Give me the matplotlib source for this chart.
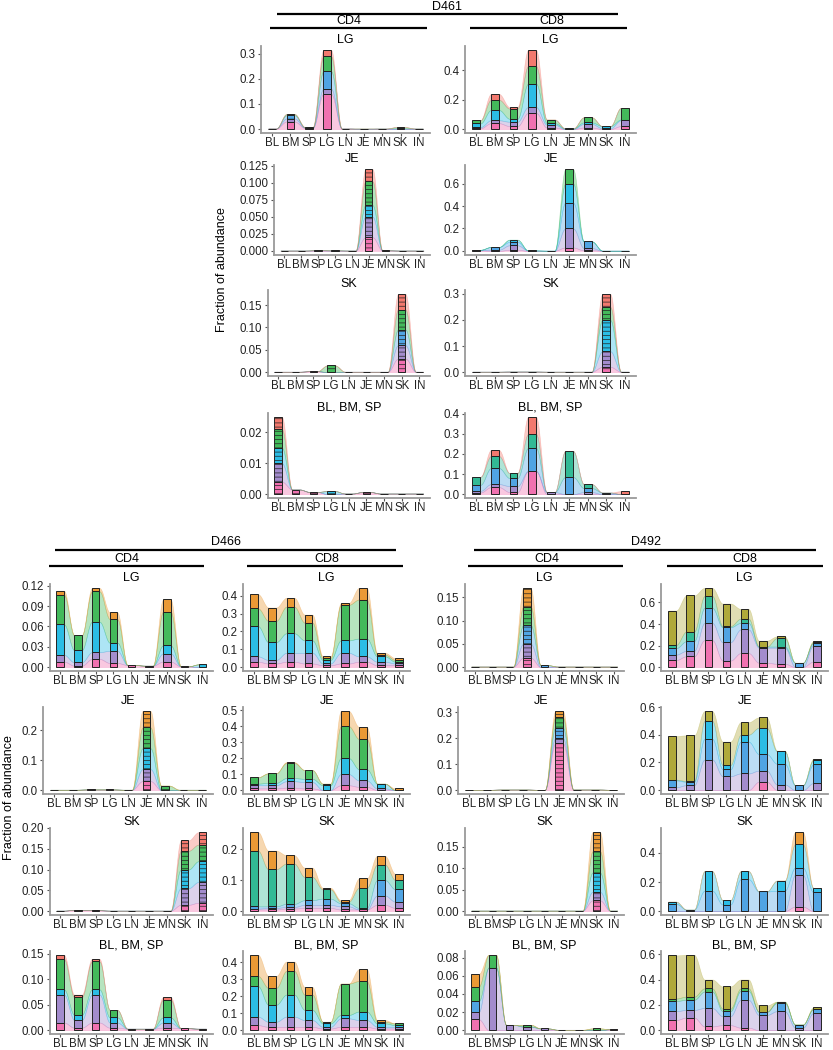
import matplotlib
matplotlib.use('Agg')
import matplotlib.pyplot as plt
import numpy as np
from matplotlib.textpath import TextPath
from matplotlib.font_manager import FontProperties
from matplotlib.colors import to_rgba

plt.rcParams['font.family'] = ['Liberation Sans', 'DejaVu Sans']
plt.rcParams['hatch.linewidth'] = 0.5
plt.rcParams['hatch.color'] = '#222222'

W, H = 833, 1050
tissues = ['BL', 'BM', 'SP', 'LG', 'LN', 'JE', 'MN', 'SK', 'IN']

# each row = one tissue, columns = clone bands stacked bottom -> top
d461_cd4_lg = [[0.002, 0, 0, 0, 0], [0.03, 0.012, 0.013, 0.005, 0], [0.004, 0.002, 0, 0.002, 0],
               [0.14, 0.02, 0.07, 0.06, 0.025], [0.002, 0, 0, 0, 0], [0, 0, 0.002, 0, 0],
               [0, 0.002, 0, 0, 0], [0, 0, 0.003, 0.005, 0], [0, 0.002, 0, 0, 0]]
d461_cd8_lg = [[0.005, 0.008, 0.025, 0.022, 0], [0.04, 0.02, 0.07, 0.07, 0.04], [0.02, 0.03, 0.02, 0.07, 0.01],
               [0.11, 0.04, 0.16, 0.12, 0.11], [0.01, 0.02, 0.01, 0.025, 0], [0, 0, 0.004, 0, 0],
               [0.01, 0.025, 0.01, 0.035, 0], [0, 0.005, 0.015, 0, 0], [0.02, 0.04, 0.005, 0.08, 0]]
d461_cd4_je = [[0.0005, 0, 0, 0, 0], [0.0005, 0, 0, 0, 0], [0, 0.001, 0, 0, 0], [0, 0.0008, 0, 0, 0],
               [0.0005, 0, 0, 0, 0], [0.02, 0.03, 0.017, 0.035, 0.018], [0.0008, 0, 0, 0, 0],
               [0.0005, 0, 0, 0, 0], [0.0005, 0, 0, 0, 0]]
d461_cd8_je = [[0.005, 0, 0.005, 0, 0], [0, 0.01, 0.025, 0, 0], [0.01, 0.04, 0.03, 0.02, 0],
               [0, 0.004, 0, 0, 0], [0.002, 0, 0, 0, 0], [0.03, 0.17, 0.23, 0.17, 0.13],
               [0.005, 0.02, 0.06, 0, 0], [0.002, 0, 0, 0, 0], [0.002, 0, 0, 0, 0]]
d461_cd4_sk = [[0.0008, 0, 0, 0, 0], [0.0008, 0, 0, 0, 0], [0.002, 0, 0, 0, 0], [0, 0, 0, 0.015, 0],
               [0.0008, 0, 0, 0, 0], [0.0008, 0, 0, 0, 0], [0.0008, 0, 0, 0, 0],
               [0.03, 0.03, 0.035, 0.045, 0.035], [0.0008, 0, 0, 0, 0]]
d461_cd8_sk = [[0.0015, 0, 0, 0, 0], [0.0015, 0, 0, 0, 0], [0.002, 0, 0, 0, 0], [0.002, 0, 0, 0, 0],
               [0.0015, 0, 0, 0, 0], [0.0015, 0, 0, 0, 0], [0.0015, 0, 0, 0, 0],
               [0.02, 0.06, 0.12, 0.05, 0.05], [0.0015, 0, 0, 0, 0]]
d461_cd4_bl = [[0.004, 0.006, 0.005, 0.006, 0.004], [0.0015, 0, 0, 0, 0], [0.0007, 0, 0, 0, 0],
               [0, 0, 0.001, 0, 0], [0.0002, 0, 0, 0, 0], [0.0007, 0, 0, 0, 0], [0.0002, 0, 0, 0, 0],
               [0.0002, 0, 0, 0, 0], [0.0002, 0, 0, 0, 0]]
d461_cd8_bl = [[0.008, 0.008, 0.03, 0.04, 0], [0.035, 0.015, 0.08, 0.06, 0.03], [0.01, 0.03, 0.04, 0.025, 0],
               [0.115, 0, 0.115, 0.07, 0.085], [0, 0.01, 0, 0, 0], [0, 0, 0.085, 0.13, 0],
               [0, 0.01, 0.02, 0.02, 0], [0, 0, 0.008, 0, 0], [0, 0, 0, 0, 0.015]]

d466_cd4_lg = [[0.008, 0.01, 0.045, 0.044, 0.006], [0.002, 0.005, 0.018, 0.022, 0], [0.012, 0.01, 0.045, 0.045, 0.005],
               [0.006, 0.018, 0.012, 0.035, 0.01], [0.003, 0, 0, 0, 0], [0.002, 0, 0, 0, 0],
               [0.008, 0.012, 0.012, 0.05, 0.018], [0.001, 0, 0, 0, 0], [0, 0, 0.004, 0, 0]]
d466_cd8_lg = [[0.03, 0.03, 0.17, 0.1, 0.08], [0.02, 0.02, 0.1, 0.12, 0.075], [0.03, 0.05, 0.11, 0.15, 0.05],
               [0.02, 0.06, 0.07, 0.1, 0.045], [0.01, 0.01, 0.02, 0.01, 0.01], [0.02, 0.06, 0.07, 0.2, 0.01],
               [0.03, 0.03, 0.1, 0.22, 0.065], [0.01, 0.02, 0.03, 0.01, 0.01], [0.01, 0.01, 0.01, 0.01, 0.01]]
d466_cd4_je = [[0.001, 0, 0, 0, 0], [0.001, 0, 0, 0, 0], [0.002, 0, 0, 0, 0], [0.002, 0, 0, 0, 0],
               [0.001, 0, 0, 0, 0], [0.03, 0.04, 0.07, 0.07, 0.055], [0, 0, 0, 0.015, 0],
               [0.001, 0, 0, 0, 0], [0.001, 0, 0, 0, 0]]
d466_cd8_je = [[0.01, 0.02, 0.01, 0.04, 0], [0.01, 0.02, 0.015, 0.06, 0], [0.015, 0.04, 0.02, 0.095, 0.005],
               [0.01, 0.04, 0.02, 0.055, 0], [0, 0, 0.03, 0.01, 0], [0.03, 0.07, 0.1, 0.2, 0.095],
               [0.02, 0.04, 0.07, 0.19, 0.075], [0, 0.01, 0.03, 0, 0], [0, 0, 0, 0, 0.01]]
d466_cd4_sk = [[0.001, 0, 0, 0, 0], [0.003, 0, 0, 0, 0], [0.002, 0, 0, 0, 0], [0.001, 0, 0, 0, 0],
               [0.001, 0, 0, 0, 0], [0.001, 0, 0, 0, 0], [0.001, 0, 0, 0, 0],
               [0.015, 0.04, 0.045, 0.045, 0.025], [0.02, 0.05, 0.05, 0.04, 0.03]]
d466_cd8_sk = [[0.005, 0.003, 0.007, 0.18, 0.06], [0.005, 0.005, 0.005, 0.12, 0.06], [0.008, 0.005, 0.01, 0.13, 0.027],
               [0.01, 0.01, 0.015, 0.075, 0.03], [0.01, 0.01, 0.02, 0.03, 0.005], [0.005, 0.01, 0.01, 0.005, 0.005],
               [0.005, 0, 0.005, 0.065, 0.03], [0.02, 0.03, 0.05, 0.05, 0.028], [0.01, 0.02, 0.04, 0.03, 0.02]]
d466_cd4_bl = [[0.015, 0.055, 0.01, 0.06, 0.008], [0.005, 0.015, 0.01, 0.035, 0.005], [0.015, 0.055, 0.01, 0.055, 0.005],
               [0.005, 0.01, 0.01, 0.015, 0], [0.003, 0, 0, 0, 0], [0.003, 0, 0, 0, 0],
               [0.005, 0.01, 0.01, 0.035, 0.005], [0.004, 0, 0, 0, 0], [0.003, 0, 0, 0, 0]]
d466_cd8_bl = [[0.03, 0.05, 0.18, 0.06, 0.125], [0.02, 0.03, 0.1, 0.1, 0.07], [0.02, 0.06, 0.13, 0.14, 0.055],
               [0.02, 0.04, 0.06, 0.09, 0.045], [0.01, 0.01, 0.02, 0.01, 0], [0.02, 0.05, 0.02, 0.185, 0],
               [0.02, 0.04, 0.05, 0.18, 0.07], [0.01, 0.01, 0.02, 0.01, 0.01], [0.01, 0.01, 0.01, 0.01, 0]]

d492_cd4_lg = [[0.001, 0, 0, 0, 0], [0.001, 0, 0, 0, 0], [0.001, 0, 0, 0, 0], [0.02, 0.03, 0.04, 0.04, 0.04],
               [0, 0, 0.004, 0, 0], [0.001, 0, 0, 0, 0], [0.001, 0, 0, 0, 0], [0.001, 0, 0, 0, 0], [0.001, 0, 0, 0, 0]]
d492_cd8_lg = [[0.065, 0.05, 0.06, 0.03, 0.32], [0.1, 0.05, 0.09, 0.09, 0.335], [0.25, 0.16, 0.14, 0.11, 0.075],
               [0.06, 0.17, 0.14, 0.01, 0.21], [0.13, 0.22, 0.06, 0.04, 0.09], [0.04, 0.14, 0.01, 0, 0.055],
               [0.03, 0.15, 0.01, 0.08, 0.015], [0, 0, 0.04, 0, 0], [0.05, 0.15, 0.02, 0.01, 0.01]]
d492_cd4_je = [[0.001, 0, 0, 0, 0], [0.001, 0, 0, 0, 0], [0.002, 0, 0, 0, 0], [0.002, 0, 0, 0, 0],
               [0.001, 0, 0, 0, 0], [0.18, 0.02, 0.04, 0.04, 0.025], [0.002, 0, 0, 0, 0],
               [0.002, 0, 0, 0, 0], [0.001, 0, 0, 0, 0]]
d492_cd8_je = [[0, 0.02, 0.05, 0.005, 0.315], [0, 0.035, 0.025, 0.005, 0.33], [0, 0.22, 0.15, 0.13, 0.07],
               [0, 0.1, 0.05, 0.03, 0.17], [0, 0.12, 0.23, 0.05, 0.09], [0.06, 0.08, 0.12, 0.19, 0.075],
               [0, 0.04, 0.15, 0.09, 0.005], [0, 0, 0.035, 0, 0], [0, 0.05, 0.135, 0.03, 0.01]]
d492_cd4_sk = [[0.001, 0, 0, 0, 0], [0.001, 0, 0, 0, 0], [0.001, 0, 0, 0, 0], [0.001, 0, 0, 0, 0],
               [0.001, 0, 0, 0, 0], [0.001, 0, 0, 0, 0], [0.001, 0, 0, 0, 0],
               [0.025, 0.02, 0.045, 0.05, 0.045], [0.001, 0, 0, 0, 0]]
d492_cd8_sk = [[0, 0, 0.05, 0.015, 0], [0, 0, 0.01, 0, 0], [0, 0, 0.14, 0.135, 0], [0, 0, 0.045, 0.03, 0],
               [0, 0, 0.22, 0.055, 0], [0, 0, 0.135, 0, 0], [0, 0, 0.14, 0.07, 0],
               [0.03, 0.22, 0.05, 0.16, 0.085], [0, 0, 0.13, 0.03, 0]]
d492_cd4_bl = [[0.012, 0.008, 0.012, 0.016, 0.014], [0, 0.069, 0, 0.014, 0], [0, 0.006, 0, 0, 0],
               [0, 0.004, 0, 0.002, 0], [0, 0.002, 0, 0, 0], [0.0005, 0, 0, 0, 0], [0.0005, 0, 0, 0, 0],
               [0, 0, 0, 0.002, 0], [0.001, 0, 0, 0, 0]]
d492_cd8_bl = [[0.08, 0.07, 0.08, 0.02, 0.34], [0.1, 0.06, 0.08, 0.025, 0.33], [0.03, 0.145, 0.13, 0.025, 0.07],
               [0.04, 0.07, 0.04, 0.02, 0.175], [0.02, 0.22, 0.07, 0.02, 0.07], [0, 0.12, 0.025, 0, 0.05],
               [0, 0.15, 0.065, 0.01, 0], [0, 0.02, 0.025, 0, 0], [0, 0.135, 0.03, 0.005, 0.01]]

PINK, PURPLE, BLUE, CYAN = '#EF62A8', '#9A80C8', '#3D9BE0', '#14B7E3'
TEAL, GREEN, OLIVE, ORANGE, RED = '#1CB38A', '#2FB34A', '#A8A025', '#E88E1F', '#F26B5F'

fig = plt.figure(figsize=(W / 100, H / 100), dpi=100)
TICK_FS = 8.3
fp = FontProperties(family='Liberation Sans')


def text_w(s):
    # width of a tick label in pixels
    return TextPath((0, 0), s, size=TICK_FS, prop=fp).get_extents().width * 100 / 72


def smooth(t):
    return 0.5 - 0.5 * np.cos(np.pi * t)


def panel(data, title, ticks, cols, striped, lab_left, right, top, bottom):
    data = np.array(data, float)
    tot = data.sum(1)
    ymax = tot.max()
    left = lab_left + max(text_w(t) for t in ticks) + 6
    ax = fig.add_axes([left / W, 1 - bottom / H, (right - left) / W, (bottom - top) / H])
    cum = np.hstack([np.zeros((len(tissues), 1)), np.cumsum(data, 1)])
    bw = 0.42
    tt = np.linspace(0, 1, 30)
    xs, ys = [], []
    for i in range(len(tissues)):
        xs += [i - bw / 2, i + bw / 2]
        ys += [cum[i], cum[i]]
        if i < len(tissues) - 1:
            for t in tt[1:-1]:
                xs.append(i + bw / 2 + t * (1 - bw))
                ys.append(cum[i] + (cum[i + 1] - cum[i]) * smooth(t))
    xs = np.array(xs)
    ys = np.array(ys)
    for b in range(data.shape[1]):
        ax.fill_between(xs, ys[:, b], ys[:, b + 1], color=cols[b], alpha=0.35, lw=0.4)
    for b in range(data.shape[1]):
        for i in range(len(tissues)):
            if data[i, b] <= 0:
                continue
            ax.bar(i, data[i, b], bottom=cum[i, b], width=bw, color=to_rgba(cols[b], 0.85),
                   edgecolor='#222222', linewidth=0.7, hatch='----' if striped else None)
    ax.set_xlim(-0.6, len(tissues) - 0.4)
    ax.set_ylim(-0.05 * ymax, 1.05 * ymax)
    ax.set_xticks(range(len(tissues)))
    ax.set_xticklabels(tissues)
    ax.set_yticks([float(t) for t in ticks])
    ax.set_yticklabels(ticks)
    ax.tick_params(labelsize=TICK_FS, width=0.8, color='#555555', labelcolor='#222222')
    ax.tick_params(axis='x', length=2, pad=1.2)
    ax.tick_params(axis='y', length=2.5, pad=1.5)
    for s in ['top', 'right']:
        ax.spines[s].set_visible(False)
    for s in ['left', 'bottom']:
        ax.spines[s].set_color('#9a9a9a')
        ax.spines[s].set_linewidth(1.3)
    ax.set_title(title, fontsize=9, pad=1.5)
    return ax


top_rows = [(46, 133), (165, 255), (290, 376), (413, 498)]
bot_rows = [(584, 671), (707, 794), (828, 915), (951, 1034)]

r = top_rows
panel(d461_cd4_lg, 'LG', ['0.0', '0.1', '0.2', '0.3'], [PINK, PURPLE, BLUE, GREEN, RED], False, 240, 430, *r[0])
panel(d461_cd8_lg, 'LG', ['0.0', '0.2', '0.4'], [PINK, PURPLE, CYAN, GREEN, RED], False, 444, 636, *r[0])
panel(d461_cd4_je, 'JE', ['0.000', '0.025', '0.050', '0.075', '0.100', '0.125'], [PINK, PURPLE, CYAN, GREEN, RED], True, 240, 430, *r[1])
panel(d461_cd8_je, 'JE', ['0.0', '0.2', '0.4', '0.6'], [PINK, PURPLE, BLUE, CYAN, GREEN], False, 444, 636, *r[1])
panel(d461_cd4_sk, 'SK', ['0.00', '0.05', '0.10', '0.15'], [PINK, PURPLE, BLUE, GREEN, RED], True, 240, 430, *r[2])
panel(d461_cd8_sk, 'SK', ['0.0', '0.1', '0.2', '0.3'], [PINK, PURPLE, CYAN, GREEN, RED], True, 444, 636, *r[2])
panel(d461_cd4_bl, 'BL, BM, SP', ['0.00', '0.01', '0.02'], [PINK, PURPLE, CYAN, GREEN, RED], True, 240, 430, *r[3])
panel(d461_cd8_bl, 'BL, BM, SP', ['0.0', '0.1', '0.2', '0.3', '0.4'], [PINK, PURPLE, BLUE, TEAL, RED], False, 444, 636, *r[3])

r = bot_rows
panel(d466_cd4_lg, 'LG', ['0.00', '0.03', '0.06', '0.09', '0.12'], [PINK, PURPLE, CYAN, GREEN, ORANGE], False, 22, 213, *r[0])
panel(d466_cd8_lg, 'LG', ['0.0', '0.1', '0.2', '0.3', '0.4'], [PINK, PURPLE, CYAN, GREEN, ORANGE], False, 222, 410, *r[0])
panel(d466_cd4_je, 'JE', ['0.0', '0.1', '0.2'], [PINK, PURPLE, CYAN, GREEN, ORANGE], True, 22, 213, *r[1])
panel(d466_cd8_je, 'JE', ['0.0', '0.1', '0.2', '0.3', '0.4', '0.5'], [PINK, PURPLE, CYAN, GREEN, ORANGE], False, 222, 410, *r[1])
panel(d466_cd4_sk, 'SK', ['0.00', '0.05', '0.10', '0.15', '0.20'], [PINK, PURPLE, CYAN, GREEN, RED], True, 22, 213, *r[2])
panel(d466_cd8_sk, 'SK', ['0.0', '0.1', '0.2'], [PINK, PURPLE, BLUE, TEAL, ORANGE], False, 222, 410, *r[2])
panel(d466_cd4_bl, 'BL, BM, SP', ['0.00', '0.05', '0.10', '0.15'], [PINK, PURPLE, CYAN, GREEN, RED], False, 22, 213, *r[3])
panel(d466_cd8_bl, 'BL, BM, SP', ['0.0', '0.1', '0.2', '0.3', '0.4'], [PINK, PURPLE, CYAN, GREEN, ORANGE], False, 222, 410, *r[3])

panel(d492_cd4_lg, 'LG', ['0.00', '0.05', '0.10', '0.15'], [PINK, PURPLE, BLUE, GREEN, ORANGE], True, 437, 624, *r[0])
panel(d492_cd8_lg, 'LG', ['0.0', '0.2', '0.4', '0.6'], [PINK, PURPLE, BLUE, TEAL, OLIVE], False, 640, 828, *r[0])
panel(d492_cd4_je, 'JE', ['0.0', '0.1', '0.2', '0.3'], [PINK, PURPLE, BLUE, GREEN, ORANGE], True, 437, 624, *r[1])
panel(d492_cd8_je, 'JE', ['0.0', '0.2', '0.4', '0.6'], [PINK, PURPLE, BLUE, CYAN, OLIVE], False, 640, 828, *r[1])
panel(d492_cd4_sk, 'SK', ['0.00', '0.05', '0.10', '0.15'], [PINK, PURPLE, CYAN, GREEN, ORANGE], True, 437, 624, *r[2])
panel(d492_cd8_sk, 'SK', ['0.0', '0.2', '0.4'], [PINK, PURPLE, BLUE, CYAN, ORANGE], False, 640, 828, *r[2])
panel(d492_cd4_bl, 'BL, BM, SP', ['0.00', '0.02', '0.04', '0.06', '0.08'], [PINK, PURPLE, BLUE, GREEN, ORANGE], False, 437, 624, *r[3])
panel(d492_cd8_bl, 'BL, BM, SP', ['0.0', '0.2', '0.4', '0.6'], [PINK, PURPLE, BLUE, GREEN, OLIVE], False, 640, 828, *r[3])

# headers drawn in pixel space on an overlay
ov = fig.add_axes([0, 0, 1, 1], facecolor='none')
ov.set_xlim(0, W)
ov.set_ylim(H, 0)
ov.axis('off')
headers = [('D461', 447, 7, 277, 618, 14), ('CD4', 349, 21, 270, 427, 28), ('CD8', 552, 21, 470, 627, 28),
           ('D466', 226, 542, 55, 396, 550), ('CD4', 127, 559, 49, 204, 566), ('CD8', 327, 559, 247, 403, 566),
           ('D492', 646, 542, 474, 816, 550), ('CD4', 547, 559, 468, 623, 566), ('CD8', 745, 559, 667, 823, 566)]
for lab, cx, cy, x0, x1, ly in headers:
    ov.text(cx, cy, lab, ha='center', va='center', fontsize=9)
    ov.plot([x0, x1], [ly, ly], color='black', lw=1.6, solid_capstyle='butt')
ov.text(222, 270, 'Fraction of abundance', rotation=90, ha='center', va='center', fontsize=9)
ov.text(9, 798, 'Fraction of abundance', rotation=90, ha='center', va='center', fontsize=9)

fig.savefig('out.png', dpi=100)
